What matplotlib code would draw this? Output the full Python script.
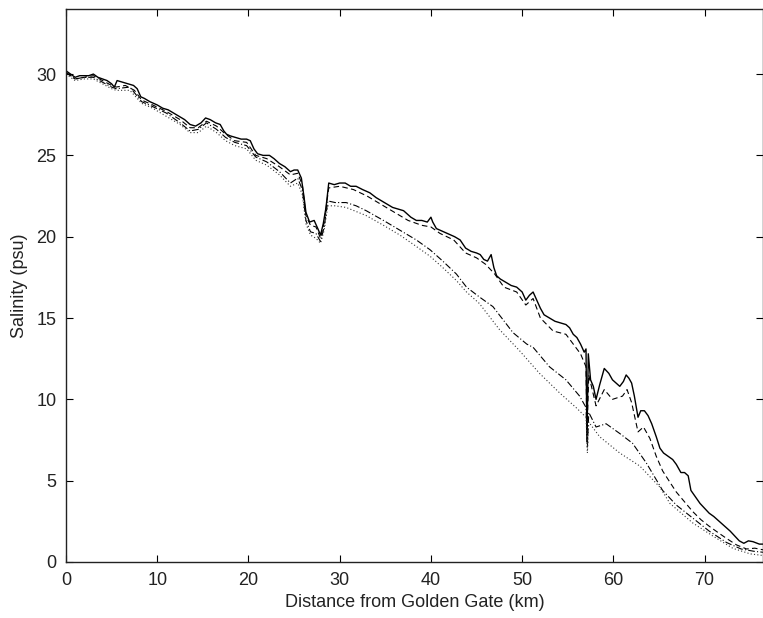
import matplotlib.pyplot as plt

plt.rcParams['font.family'] = ['Liberation Sans', 'DejaVu Sans']

# solid
km_a = [0, 0.5, 1.0, 1.5, 2.0, 2.5, 3.0, 3.5, 4.0, 4.5, 5.0, 5.3, 5.6, 6.2, 6.8, 7.4, 7.8, 8.2, 8.6, 9.2,
        10.0, 10.6, 11.2, 11.8, 12.4, 13.0, 13.6, 14.2, 14.8, 15.3, 15.8, 16.4, 16.9, 17.3, 17.6, 18.0,
        18.6, 19.2, 19.8, 20.2, 20.6, 21.0, 21.6, 22.3, 22.8, 23.4, 24.0, 24.6, 25.0, 25.4, 25.8, 26.1,
        26.3, 26.7, 27.2, 27.6, 27.9, 28.2, 28.5, 28.8, 29.4, 30.0, 30.6, 31.2, 31.8, 32.5, 33.3, 34.0,
        34.6, 35.2, 35.8, 36.4, 37.0, 37.8, 38.4, 39.0, 39.6, 40.0, 40.2, 40.6, 41.0, 41.8, 42.6, 43.2,
        43.8, 44.4, 45.0, 45.4, 45.8, 46.2, 46.6, 46.9, 47.2, 47.6, 48.2, 48.8, 49.4, 50.0, 50.4, 50.8,
        51.2, 51.6, 52.0, 52.4, 53.0, 53.6, 54.2, 54.8, 55.2, 55.6, 56.0, 56.4, 56.8, 57.0, 57.1, 57.25,
        57.5, 57.8, 58.1, 58.5, 59.0, 59.5, 59.9, 60.3, 60.7, 61.1, 61.4, 61.7, 62.0, 62.3, 62.7, 63.0,
        63.4, 63.8, 64.2, 64.7, 65.1, 65.5, 66.0, 66.5, 66.9, 67.4, 67.8, 68.2, 68.5, 69.0, 69.5, 70.0,
        70.5, 71.0, 71.6, 72.2, 72.8, 73.3, 73.8, 74.3, 74.8, 75.3, 76.0, 76.4]
sal_a = [30.2, 30.0, 29.8, 29.9, 29.9, 29.9, 30.0, 29.8, 29.7, 29.6, 29.4, 29.2, 29.6, 29.5, 29.4, 29.3,
         29.1, 28.6, 28.5, 28.3, 28.1, 27.9, 27.8, 27.6, 27.4, 27.2, 26.9, 26.8, 27.0, 27.3, 27.2, 27.0,
         26.9, 26.5, 26.3, 26.2, 26.1, 26.0, 26.0, 25.9, 25.4, 25.1, 25.0, 25.0, 24.8, 24.5, 24.3, 24.0,
         24.1, 24.1, 23.6, 22.4, 21.5, 20.9, 21.0, 20.5, 20.1, 20.8, 21.8, 23.3, 23.2, 23.3, 23.3, 23.1,
         23.1, 22.9, 22.7, 22.4, 22.2, 22.0, 21.8, 21.7, 21.6, 21.2, 21.0, 21.0, 20.9, 21.2, 20.9, 20.5,
         20.4, 20.2, 20.0, 19.8, 19.3, 19.1, 19.0, 18.9, 18.6, 18.5, 18.9, 18.1, 17.6, 17.4, 17.2, 17.0,
         16.9, 16.6, 16.1, 16.4, 16.6, 16.1, 15.6, 15.2, 15.0, 14.8, 14.7, 14.6, 14.4, 14.0, 13.8, 13.4,
         12.9, 13.1, 7.4, 12.8, 11.2, 10.8, 10.0, 10.9, 11.9, 11.6, 11.2, 11.0, 10.8, 11.1, 11.5, 11.3,
         11.0, 10.2, 8.9, 9.3, 9.3, 9.0, 8.5, 7.7, 7.0, 6.7, 6.5, 6.3, 6.0, 5.5, 5.5, 5.3, 4.4, 4.0, 3.6,
         3.3, 3.0, 2.8, 2.5, 2.2, 1.9, 1.6, 1.3, 1.15, 1.3, 1.25, 1.1, 1.1]

# dashed
km_b = [0, 1, 2, 3, 4, 5, 5.5, 6.5, 7.5, 8.3, 9.5, 11, 12.5, 13.6, 14.5, 15.4, 16.5, 17.5, 18.5, 19.8,
        20.8, 22, 23.4, 24.6, 25.4, 25.9, 26.3, 26.8, 27.4, 27.9, 28.3, 28.8, 30, 31.5, 33, 34.5, 36,
        37.5, 39, 40, 41, 42.5, 43.8, 45, 46, 47, 48, 49.4, 50.4, 51.2, 52.0, 53.4, 54.8, 55.6, 56.4,
        57.0, 57.1, 57.3, 58.1, 59.0, 59.9, 61.0, 61.5, 62.0, 62.7, 63.3, 64.0, 64.7, 65.4, 66.2, 66.9,
        67.8, 68.7, 69.6, 70.5, 71.5, 72.4, 73.5, 74.6, 75.5, 76.4]
sal_b = [30.1, 29.7, 29.8, 29.9, 29.6, 29.3, 29.2, 29.3, 29.0, 28.4, 28.1, 27.7, 27.2, 26.7, 26.7, 27.1,
         26.8, 26.3, 25.9, 25.8, 25.0, 24.8, 24.3, 23.8, 23.9, 23.2, 21.3, 20.7, 20.6, 19.9, 20.9, 23.0,
         23.1, 22.9, 22.5, 22.0, 21.5, 21.0, 20.7, 20.6, 20.2, 19.8, 19.0, 18.7, 18.3, 17.7, 16.9, 16.6,
         15.8, 16.2, 15.0, 14.2, 14.0, 13.4, 12.8, 12.0, 7.8, 11.5, 9.6, 10.6, 10.0, 10.2, 10.6, 9.8,
         8.0, 8.3, 7.6, 6.5, 5.6, 4.9, 4.3, 3.7, 3.1, 2.6, 2.2, 1.8, 1.45, 1.05, 0.8, 0.85, 0.75]

# dash-dot
km_c = [0, 1, 2, 3, 4, 5, 5.5, 7, 8.3, 9.5, 11, 12.5, 13.6, 14.5, 15.4, 16.5, 17.5, 18.5, 19.8, 20.8,
        22, 23.4, 24.6, 25.4, 25.9, 26.3, 26.8, 27.4, 27.9, 28.3, 28.7, 29.5, 30.7, 31.8, 32.9, 34.8,
        36.6, 38.4, 39.9, 41.3, 42.8, 43.9, 45.3, 46.8, 47.9, 49.0, 50.5, 51.2, 53.0, 54.8, 56.3, 57.0,
        57.15, 57.3, 58.1, 59.2, 60.7, 62.1, 63.6, 65.4, 66.9, 68.7, 70.5, 72.4, 74.0, 75.5, 76.4]
sal_c = [30.1, 29.7, 29.8, 29.8, 29.5, 29.2, 29.1, 29.2, 28.3, 28.0, 27.6, 27.0, 26.5, 26.6, 27.0, 26.6,
         26.1, 25.8, 25.6, 24.9, 24.6, 24.0, 23.3, 23.6, 22.9, 21.0, 20.3, 20.2, 19.7, 20.6, 22.2, 22.1,
         22.1, 21.9, 21.6, 21.0, 20.4, 19.8, 19.2, 18.5, 17.7, 16.9, 16.3, 15.7, 14.9, 14.1, 13.4, 13.2,
         12.0, 11.2, 10.2, 9.5, 7.0, 9.2, 8.3, 8.5, 7.9, 7.3, 6.1, 4.4, 3.5, 2.7, 1.9, 1.2, 0.8, 0.65, 0.6]

# dotted
km_d = [0, 1, 2, 3, 4, 5, 5.5, 7, 8.3, 9.5, 11, 12.5, 13.6, 14.5, 15.4, 16.5, 17.5, 18.5, 19.8, 20.8,
        22, 23.4, 24.6, 25.4, 25.9, 26.3, 26.8, 27.4, 27.9, 28.3, 28.7, 29.5, 30.7, 32.9, 34.8, 36.6,
        38.4, 39.9, 41.3, 42.8, 43.9, 45.3, 47.5, 49.7, 51.9, 54.1, 55.9, 57.0, 57.15, 57.3, 58.5, 60.7,
        62.9, 65.1, 66.2, 68.7, 70.9, 73.1, 75.0, 76.4]
sal_d = [30.0, 29.6, 29.7, 29.7, 29.4, 29.1, 29.0, 29.0, 28.2, 27.9, 27.4, 26.9, 26.4, 26.4, 26.8, 26.4,
         25.9, 25.6, 25.4, 24.7, 24.4, 23.8, 23.1, 23.3, 22.6, 20.8, 20.1, 19.9, 19.6, 20.4, 21.9, 21.9,
         21.8, 21.3, 20.7, 20.1, 19.4, 18.8, 18.1, 17.3, 16.6, 15.9, 14.3, 13.0, 11.6, 10.4, 9.5, 8.9,
         6.7, 8.6, 7.7, 6.7, 5.9, 4.6, 3.6, 2.4, 1.6, 0.84, 0.5, 0.4]

fig = plt.figure(figsize=(7.63, 6.18), dpi=100)
ax = fig.add_axes([66 / 763, 56 / 618, 697 / 763, 553 / 618])

ax.plot(km_a, sal_a, color='black', lw=1.0, ls='-')
ax.plot(km_b, sal_b, color='black', lw=0.8, ls=(0, (5, 3)))
ax.plot(km_c, sal_c, color='black', lw=0.8, ls=(0, (6, 2, 1, 2)))
ax.plot(km_d, sal_d, color='#333333', lw=0.8, ls=(0, (1, 2)))

ax.set_xlim(0, 76.4)
ax.set_ylim(0, 34)
ax.set_xticks(range(0, 80, 10))
ax.set_yticks(range(0, 35, 5))
ax.tick_params(direction='in', top=True, right=True, length=5, width=0.8,
               labelsize=13, pad=7, labelcolor='#222222')
for s in ax.spines.values():
    s.set_linewidth(1.0)
    s.set_color('#222222')

ax.set_xlabel('Distance from Golden Gate (km)', fontsize=13, labelpad=4, color='#222222')
ax.set_ylabel('Salinity (psu)', fontsize=13, labelpad=6, color='#222222')

fig.savefig('out.png', dpi=100)
